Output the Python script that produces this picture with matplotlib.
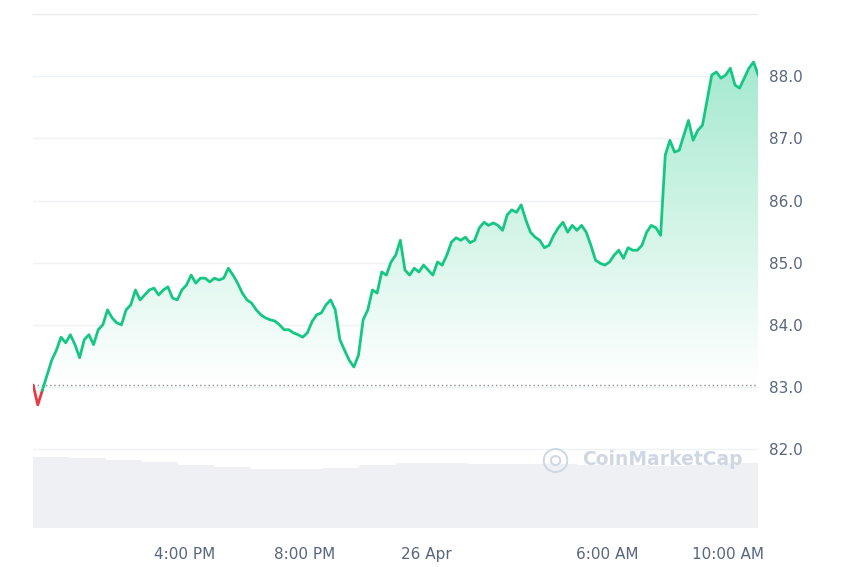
import numpy as np
import matplotlib.pyplot as plt
from matplotlib.patches import Polygon
from matplotlib.colors import LinearSegmentedColormap

# price samples, evenly spaced over 24h (11:00 AM -> 11:00 AM)
prices = [83.03, 82.71, 82.95, 83.19, 83.43, 83.59, 83.80, 83.71, 83.84, 83.68, 83.47, 83.76,
          83.84, 83.68, 83.92, 84.00, 84.24, 84.11, 84.03, 84.00, 84.24, 84.32, 84.56, 84.40,
          84.48, 84.56, 84.59, 84.48, 84.56, 84.61, 84.43, 84.40, 84.56, 84.64, 84.80, 84.67,
          84.75, 84.75, 84.69, 84.75, 84.72, 84.75, 84.91, 84.80, 84.67, 84.51, 84.40, 84.35,
          84.24, 84.16, 84.11, 84.08, 84.06, 84.00, 83.92, 83.92, 83.87, 83.84, 83.80, 83.87,
          84.05, 84.16, 84.19, 84.32, 84.40, 84.24, 83.76, 83.59, 83.43, 83.32, 83.51, 84.08,
          84.24, 84.56, 84.51, 84.85, 84.80, 85.01, 85.12, 85.36, 84.88, 84.80, 84.91, 84.85,
          84.96, 84.88, 84.80, 85.01, 84.96, 85.12, 85.33, 85.40, 85.36, 85.41, 85.32, 85.36,
          85.56, 85.65, 85.60, 85.64, 85.60, 85.52, 85.77, 85.85, 85.81, 85.93, 85.69, 85.49,
          85.41, 85.36, 85.24, 85.28, 85.44, 85.56, 85.65, 85.49, 85.60, 85.52, 85.60, 85.49,
          85.28, 85.04, 84.99, 84.96, 85.01, 85.12, 85.20, 85.07, 85.24, 85.20, 85.20, 85.28,
          85.49, 85.60, 85.56, 85.44, 86.73, 86.97, 86.78, 86.81, 87.05, 87.29, 86.97, 87.13,
          87.21, 87.61, 88.02, 88.07, 87.97, 88.02, 88.13, 87.86, 87.81, 87.97, 88.13, 88.23,
          88.02]
volumes = [96, 95, 93, 90, 86, 83, 80, 80, 82, 85, 88, 88, 87, 87, 87, 86, 85, 84, 86, 88]
open_price = 83.03
y_ticks = [82.0, 83.0, 84.0, 85.0, 86.0, 87.0, 88.0]
x_tick_hours = [5, 9, 13, 19, 23]
x_tick_labels = ["4:00 PM", "8:00 PM", "26 Apr", "6:00 AM", "10:00 AM"]

green = "#16c784"
red = "#ea3943"
t = np.linspace(0, 24, len(prices))
p = np.array(prices)

fig = plt.figure(figsize=(8.5, 5.67), dpi=100)
ax = fig.add_axes([0.039, 0.069, 0.853, 0.906])
ymin, ymax = 80.73, 89.0
ax.set_xlim(0, 24)
ax.set_ylim(ymin, ymax)

# volume bars on twin axis
axv = ax.twinx()
axv.set_ylim(0, 700)
vt = np.linspace(0, 24, len(volumes) + 1)
axv.bar(vt[:-1], volumes, width=vt[1] - vt[0], align="edge", color="#eef0f4", linewidth=0, zorder=0)
axv.set_yticks([])
for s in axv.spines.values():
    s.set_visible(False)
ax.set_zorder(axv.get_zorder() + 1)
ax.patch.set_visible(False)

# gradient fill under line (above open price)
grad = np.linspace(0.4, 0.0, 256).reshape(-1, 1)
cmap = LinearSegmentedColormap.from_list("g", ["#ffffff", green])
im = ax.imshow(grad, extent=[0, 24, open_price, 88.4], origin="upper", aspect="auto",
               cmap=cmap, vmin=0, vmax=1, zorder=1)
pl = np.maximum(p, open_price)
poly = Polygon(np.column_stack([np.r_[t, t[::-1]], np.r_[pl, np.full_like(pl, open_price)]]),
               closed=True, transform=ax.transData, facecolor="none", edgecolor="none")
ax.add_patch(poly)
im.set_clip_path(poly)

for y in y_ticks:
    ax.axhline(y, color="#eff2f5", lw=1, zorder=0.5)
ax.axhline(ymax, color="#e6e9ee", lw=1)
ax.axhline(open_price, color="#8a8f99", lw=1, ls=(0, (1, 2)), zorder=2)

# line: red below open, green above
ax.plot(t[:3], p[:3], color=red, lw=2, zorder=3, solid_capstyle="round")
ax.plot(t[2:], p[2:], color=green, lw=2, zorder=3, solid_joinstyle="round")

ax.yaxis.tick_right()
ax.set_yticks(y_ticks)
ax.set_yticklabels([f"{v:.1f}" for v in y_ticks])
ax.set_xticks(x_tick_hours)
ax.set_xticklabels(x_tick_labels)
ax.tick_params(axis="y", length=0, labelsize=11, labelcolor="#58667e", pad=8)
ax.tick_params(axis="x", length=0, labelsize=11, labelcolor="#58667e", pad=14)
for s in ax.spines.values():
    s.set_visible(False)

fig.text(0.685, 0.19, "CoinMarketCap", fontsize=13.5, color="#cfd6e4", fontweight="bold",
         ha="left", va="center")
fig.text(0.653, 0.19, "\u25CE", fontsize=24, color="#cfd6e4", ha="center", va="center")

fig.savefig("out.png")
